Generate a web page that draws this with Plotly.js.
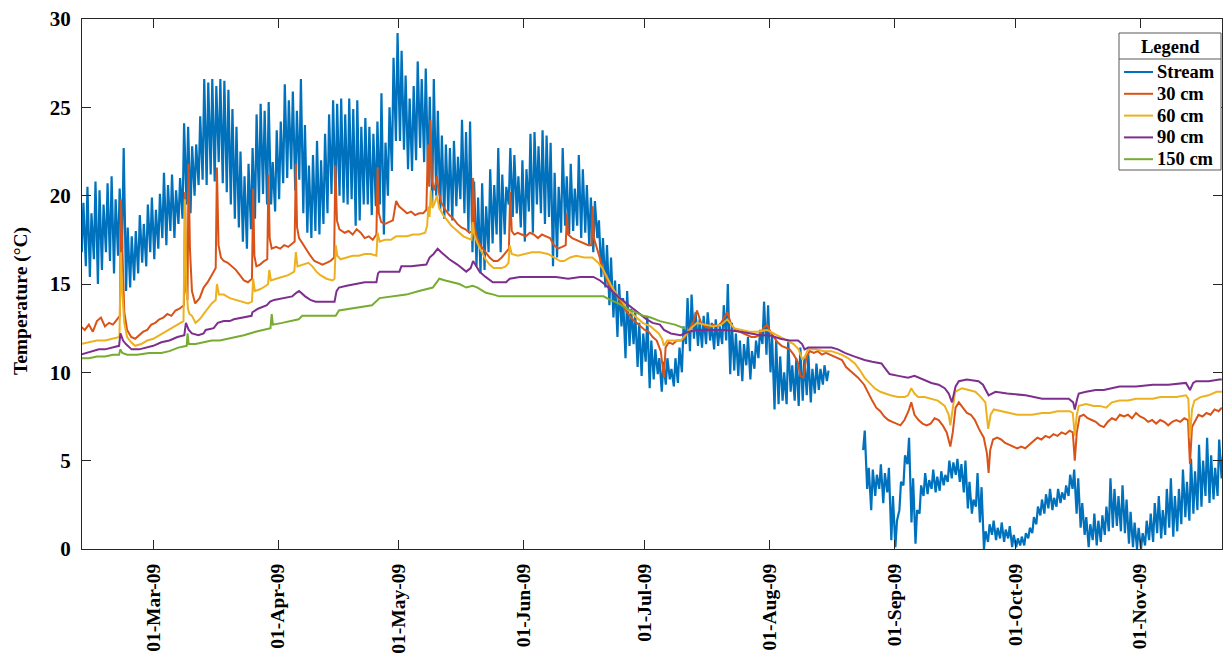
<!DOCTYPE html>
<html>
<head>
<meta charset="utf-8">
<script src="https://cdn.plot.ly/plotly-3.0.1.min.js"></script>
<style>
  html, body { margin: 0; padding: 0; background: #ffffff; }
  #chart { width: 1231px; height: 661px; }
</style>
</head>
<body>
<div id="chart"></div>
<script>
// Day offsets are counted from 11-Feb-2009 00:00.
const seriesStart = Date.UTC(2009, 1, 11);

// Stream: daily high / low temperatures (°C), one entry per day; null = logger gap.
const streamHigh = [
  19.6,20.5,19.0,20.8,20.3,19.5,20.7,21.1,19.8,20.4,
  22.7,18.2,17.7,18.0,18.9,18.4,19.5,19.9,19.2,20.1,
  21.3,20.6,21.2,20.3,21.0,24.1,23.9,22.8,22.9,24.5,
  26.6,26.4,26.6,26.2,26.6,26.5,26.0,24.9,23.9,22.5,
  21.1,21.8,22.7,24.6,25.2,24.8,25.3,21.9,23.7,24.2,
  26.3,25.4,25.9,24.8,26.6,24.0,21.7,22.3,23.1,22.0,
  23.5,24.6,25.4,25.2,25.5,24.6,25.5,24.9,25.4,23.9,
  24.4,23.9,23.5,24.2,25.8,23.0,25.0,27.8,29.2,28.2,
  26.8,25.5,26.2,27.6,26.6,27.2,25.6,26.6,24.8,23.4,
  22.9,22.7,23.1,22.2,24.3,23.6,24.2,20.8,19.9,20.7,
  19.4,21.5,20.6,22.7,21.2,20.5,22.7,22.3,21.1,22.0,
  21.5,23.5,23.6,22.8,23.7,23.4,23.0,21.3,20.5,22.7,
  21.1,21.8,20.4,22.3,21.5,20.6,19.9,19.7,18.6,17.6,
  17.2,16.5,15.2,15.0,14.2,14.6,13.6,13.4,12.8,12.2,
  13.2,11.8,11.3,10.8,10.6,10.8,10.2,10.8,11.4,12.6,
  14.2,14.4,13.4,13.0,13.2,13.4,12.8,13.0,12.6,13.8,
  15.0,12.8,12.2,11.8,11.6,12.0,11.2,11.8,12.4,14.0,
  13.8,12.0,11.8,10.9,10.0,11.8,10.4,10.8,11.4,10.8,
  11.0,10.2,10.5,10.2,10.4,10.1,null,null,null,null,
  null,null,null,null,6.7,4.6,4.5,4.2,4.8,4.3,
  4.6,3.0,1.6,3.8,5.3,6.3,4.0,2.2,3.6,4.3,
  3.9,4.5,4.1,4.4,4.2,5.0,4.9,5.1,4.8,5.0,
  3.8,2.8,4.3,3.5,1.0,1.4,1.6,1.2,1.5,1.1,
  1.3,0.8,0.6,0.7,0.9,1.2,1.8,2.4,2.8,3.1,
  3.4,2.9,3.4,3.2,3.6,4.2,4.5,4.0,2.6,1.8,
  1.4,2.0,1.6,1.9,2.4,4.0,3.4,3.0,3.6,2.8,
  2.1,1.5,1.2,0.9,1.6,2.0,2.6,3.0,2.2,3.4,
  4.0,3.0,3.4,4.5,3.8,5.1,4.4,5.9,5.0,6.3,
  5.3,4.6,6.2,5.5
];
const streamLow = [
  16.8,16.0,15.4,16.4,15.0,15.8,16.8,16.3,15.6,16.6,
  17.0,14.6,14.8,15.2,15.6,16.2,16.0,16.8,16.4,17.0,
  17.6,17.2,18.0,17.6,18.4,18.7,19.5,19.0,20.0,20.6,
  20.9,20.6,21.2,20.8,21.9,20.7,20.2,19.5,18.7,18.2,
  17.4,17.0,18.1,18.7,19.6,20.1,19.5,19.5,19.1,19.8,
  20.7,21.0,21.5,20.3,20.9,19.0,17.9,17.6,18.0,17.8,
  18.4,19.0,20.1,19.5,20.0,19.6,19.5,19.8,18.3,18.6,
  19.5,19.5,18.9,19.4,19.5,17.8,20.0,21.4,23.1,23.1,
  22.6,21.5,21.4,22.0,22.7,21.9,21.0,19.5,20.0,19.2,
  18.7,19.1,18.6,19.4,19.8,19.0,18.0,16.8,16.0,15.6,
  15.8,16.8,17.3,17.8,16.8,17.8,19.5,18.8,19.0,18.2,
  17.4,19.1,17.9,19.5,19.0,18.4,18.8,16.0,16.5,17.9,
  18.3,17.8,18.0,18.3,17.6,17.9,17.2,16.8,17.6,15.4,
  14.8,13.8,13.1,12.0,12.6,10.8,11.5,11.6,10.3,9.8,
  10.6,9.1,9.6,9.9,8.9,9.3,9.6,9.2,9.4,10.0,
  11.6,11.2,11.9,11.5,11.4,11.6,11.8,11.3,11.5,11.6,
  11.8,9.9,10.1,9.8,9.5,10.4,9.6,10.2,10.8,11.6,
  11.0,10.0,7.9,8.2,8.4,8.2,8.9,8.4,8.1,8.4,
  8.7,8.3,8.8,9.0,9.3,9.5,null,null,null,null,
  null,null,null,null,5.6,3.4,2.2,3.0,3.4,2.6,
  3.2,0.5,0.1,2.2,3.6,4.8,1.5,0.3,2.0,3.0,
  3.1,3.4,3.2,3.3,3.6,3.8,4.0,4.2,3.8,3.2,
  2.3,2.0,2.4,1.5,0.0,0.4,0.8,0.5,0.6,0.4,
  0.6,0.1,0.1,0.2,0.2,0.6,0.9,1.4,1.9,2.0,
  2.3,2.2,2.4,2.6,2.8,3.0,3.4,2.0,1.2,0.8,
  0.1,0.5,0.2,0.4,0.8,1.0,1.2,1.3,1.0,0.9,
  0.3,0.1,0.0,0.0,0.2,0.5,0.4,0.9,0.6,0.8,
  1.2,0.7,1.0,1.4,1.8,1.6,2.0,2.2,2.4,3.0,
  2.6,2.8,3.0,4.0
];

// Sediment probes: day offset and temperature (°C).
const t30 = [0,1,2,3,4,5,6,7,8,9,9.7,9.95,10.3,10.8,11.5,12.5,13.5,14.5,15.5,16.5,17.5,18.5,19.5,20.5,21.5,22.5,23.5,24.5,25.6,25.9,26.2,26.5,26.75,27.1,27.6,28.4,29.5,30.5,31.5,32.5,33.5,33.8,34.2,34.8,35.5,36.5,37.5,38.5,39.5,40.5,41.5,42.5,42.8,43.1,43.6,44.5,45.5,46.3,46.6,46.9,47.4,48.5,49.5,50.5,51.5,52.5,53.1,53.4,53.7,54.2,55,56,57,58,59,60,61,62,62.9,63.2,63.6,64.2,65.5,66.5,67.5,68.5,69.5,70.5,71.5,72.5,73.4,73.7,74,74.6,75.5,76.5,77.5,78.3,79,80,81,82,83,84,85,85.8,86.2,86.5,86.8,87.2,87.8,88.4,88.9,89.5,90.5,91.5,92.5,93.5,94.5,95.5,96.5,97.1,97.4,97.8,98.5,99.5,100.5,101.5,102.5,103.5,104.5,105.5,106.3,106.6,107,107.6,108.5,109.5,110.5,111.5,112.5,113.5,114.5,115.5,116.5,117.5,118.5,119.5,120.4,120.7,121,122,123,124,125,126,126.8,127.1,127.4,128.2,129,130,131,132,133,134,135,136,137,138,139,140,141,142,143,144,144.8,145.2,146,147,148,149,150,151,152,153,154,155,156,157,158,159,160.5,161.5,162.5,163.5,164.5,165.5,166.5,167.5,168.5,169.5,170.4,171.2,172,173,174,175,176,177,178,178.7,179.4,180.2,181,182,183,184,185,186,187,188,189,190,191,192,193,194.5,195.5,196.5,197.5,198.5,199.5,200.5,201.5,202.5,203.5,204.5,205.5,206.2,207,208,209,210,211,212,213,214,215,215.9,216.5,217.2,218,219,220,221,222,223,224.2,225,225.4,225.8,226.5,227.5,228.5,229.5,230.5,231.5,232.5,233.5,234.5,235.5,236.5,237.5,238.5,239.5,240.5,241.5,242.5,243.5,244.5,245.5,246.3,246.8,247.3,248,249,250,251,252,253,254,255,256,257,258,259,260,261,262,263,264,265,266,267,268,269,270,271,272,273,274,274.9,275.4,275.9,276.6,277.5,278.5,279.5,280.5,281.5,282.5,283.3];
const v30 = [12.6,12.4,12.7,12.3,12.9,13.1,12.6,12.8,12.7,13.0,13.2,19.8,16.6,13.4,12.4,12.0,11.9,12.1,12.3,12.4,12.7,12.8,13.0,13.1,13.3,13.2,13.5,13.6,13.8,20.2,14.6,14.1,21.8,17.0,14.6,13.9,14.2,14.8,15.1,15.5,15.9,21.6,17.2,16.5,16.3,16.2,16.0,15.8,15.5,15.2,15.1,15.3,20.4,16.6,16.0,16.1,16.3,16.4,21.2,17.6,17.0,17.1,17.0,17.2,17.1,17.3,17.4,21.8,18.2,17.6,17.3,16.9,16.6,16.3,16.2,16.1,16.2,16.3,16.5,21.7,18.6,18.1,17.9,18.0,17.8,18.1,17.9,17.6,17.7,17.5,17.8,21.6,19.0,18.5,18.4,18.5,18.6,19.7,19.4,19.2,19.0,19.1,18.9,19.0,19.0,19.2,22.9,20.5,24.3,20.8,20.3,21.1,20.2,19.6,19.2,18.9,18.7,18.4,18.2,18.1,17.9,18.0,21.0,18.2,17.5,17.1,16.8,16.5,16.3,16.3,16.5,16.8,17.0,20.2,18.0,17.8,17.9,17.8,17.7,17.9,17.8,17.6,17.8,17.7,17.6,17.2,17.0,17.1,17.2,19.0,17.8,17.6,17.5,17.4,17.3,17.2,17.2,19.4,17.6,17.0,16.4,15.6,15.0,14.7,14.4,14.0,13.6,13.3,13.0,12.8,12.6,12.4,12.3,12.0,11.8,11.2,9.7,11.4,11.7,11.6,11.8,11.8,12.0,12.4,12.8,13.5,12.8,12.6,12.5,12.7,12.6,12.8,13.4,12.7,12.4,12.3,12.2,12.1,12.0,12.0,12.1,12.5,12.7,12.3,12.0,11.7,11.5,11.4,11.3,11.0,10.6,9.8,9.7,10.9,11.2,11.1,11.2,11.0,11.1,11.0,10.9,10.8,10.7,10.3,10.1,9.9,9.7,9.3,8.8,8.4,8.0,7.8,7.5,7.3,7.2,7.1,7.0,7.3,7.8,8.3,7.6,7.3,7.1,7.0,7.1,7.4,7.3,7.0,6.6,5.8,6.6,8.0,8.3,8.0,7.7,7.6,7.3,6.8,6.3,5.4,4.3,5.6,6.2,6.3,6.2,6.0,5.9,5.8,5.7,5.8,5.7,5.9,6.1,6.3,6.2,6.4,6.3,6.5,6.4,6.6,6.5,6.7,6.6,5.0,6.6,7.5,7.6,7.4,7.3,7.2,7.0,6.9,7.2,7.4,7.3,7.6,7.5,7.6,7.4,7.7,7.5,7.4,7.2,7.3,7.1,7.3,7.2,7.0,7.2,7.3,7.2,7.4,7.3,4.8,6.9,7.2,7.6,7.5,7.7,7.6,7.9,7.8,8.0];

const t60 = [0,2,4,6,8,9.6,9.95,10.3,10.8,11.5,12.5,13.5,15,16.5,18,19.5,21,22.5,24,25.5,25.85,26.2,26.6,27,27.6,28.5,29.5,30.5,31.5,32.5,33.5,33.8,34.3,35.5,37,38.5,40,41.5,42.5,42.8,43.2,44.5,46,46.5,46.8,47.2,48.5,50,51.5,53,53.4,53.8,55,56.5,57.5,58.5,59.5,61,62.5,63,63.3,63.7,64.5,66,67.5,69,70.5,72,73.4,73.7,74.2,75.5,77,78.3,79.5,81,82.5,84,85.5,86,86.3,86.6,86.9,87.3,87.9,88.4,89,90,91,92,93,94,95,96,97,97.3,97.7,98.5,99.5,100.5,101.5,102.5,103.5,104.5,105.5,106.2,106.5,107,108.5,110,112,114,116,117.5,119,120,121.5,123,125,127,128.5,129.5,130.5,131.5,132.5,133.5,134.5,135.5,136.5,137.5,138.5,139.5,140.5,141.5,142.5,143.5,144.3,144.8,145.6,147,149,150.5,151.5,153,155,157,159,160.5,162.2,164,166,168,170.4,172,173.7,175.5,177,178.2,179.2,180,180.6,182.5,184.5,186.4,188.9,190.5,192.2,193.5,194.6,195.8,197.1,198.5,199.6,201,202.9,204.5,205.4,206.2,207,207.9,209.5,211,212.8,214.5,215.5,215.9,216.4,217.1,218.8,220.5,222.1,223.5,224.6,225.3,225.9,226.7,228.5,230.4,232.5,234.5,236.2,238.7,240.5,242.5,244,245.6,246.3,246.8,247.3,247.8,249.6,251.5,253,254.6,256,257.9,260,262,264,266.2,268,270,272,274.4,275,275.4,275.9,276.5,278,280,282,283.3];
const v60 = [11.6,11.7,11.8,11.8,11.9,12.0,16.8,14.5,12.8,12.0,11.7,11.5,11.6,11.8,11.9,12.1,12.3,12.5,12.7,12.9,19.8,15.0,13.6,13.3,13.2,12.8,13.0,13.3,13.6,13.9,14.1,15.0,14.4,14.4,14.2,14.1,14.0,13.9,14.0,15.3,14.6,14.7,14.9,15.0,15.8,15.2,15.3,15.4,15.5,15.7,16.8,16.0,16.1,16.2,16.0,15.7,15.5,15.3,15.2,15.3,17.2,16.6,16.4,16.5,16.6,16.6,16.7,16.7,16.6,17.9,17.4,17.5,17.5,17.7,17.7,17.7,17.8,17.8,17.9,18.3,19.4,18.8,20.3,19.3,19.6,20.0,19.3,18.9,18.6,18.3,18.1,17.9,17.7,17.6,17.5,18.5,17.8,17.3,16.8,16.4,16.1,15.9,15.9,15.9,16.0,16.2,17.2,16.7,16.6,16.7,16.8,16.8,16.7,16.5,16.3,16.3,16.5,16.6,16.5,16.5,16.2,15.9,15.4,15.0,14.6,14.3,14.0,13.6,13.4,13.2,13.0,12.8,12.7,12.6,12.4,12.2,11.9,11.5,11.8,11.8,11.8,12.2,12.5,12.8,12.7,12.6,12.7,13.0,12.5,12.4,12.3,12.3,12.4,12.2,12.0,11.8,11.6,11.3,10.7,11.0,11.3,11.3,11.2,11.2,11.0,10.8,10.5,10.1,9.7,9.4,9.1,8.9,8.8,8.7,8.6,8.6,8.7,9.1,8.8,8.6,8.6,8.5,8.4,8.1,7.6,7.0,7.9,8.9,9.1,9.0,8.9,8.6,8.3,6.8,7.6,7.9,7.8,7.7,7.6,7.6,7.6,7.7,7.7,7.8,7.8,7.8,7.7,6.4,7.6,8.1,8.2,8.1,8.1,8.0,8.3,8.4,8.4,8.5,8.5,8.5,8.6,8.6,8.6,8.7,8.5,6.3,7.9,8.4,8.6,8.7,8.9,8.9];

const t90 = [0,1.5,3,4.5,6,8,9.5,9.85,10.5,11.2,12.6,14.5,16,18,20,22,24,25.7,26.1,26.8,27.6,29.2,30.5,31,33,34,35.5,37,38,40.5,42.4,42.6,44,46.2,47,48,50,52.5,53.5,54.2,55.7,57,58.3,60.5,63,63.5,64.1,66,68.2,70.5,73.4,73.8,74.2,77,79.1,79.6,82,85.8,86.6,87.6,88.6,89.5,91.5,93.5,95.7,96.8,97.4,98.2,99,100.5,102.3,104,105.6,106.5,109,112,115,118,121,124,127.3,128.9,130,131.4,132.7,133.9,135.5,137.2,139,140.5,142,143.8,144.8,146.5,148.9,151,153,156,160,163.9,166,168.8,171,173.7,176,178.1,179.1,179.7,180.6,183,186.4,188,189.7,192,194.6,196.5,198.8,199.8,200.8,203,205.4,207,209,211.2,213,214.5,215.5,216.3,217.2,218,220,222.9,224,225.4,227.1,230,234.6,238.7,242,245.3,246.4,246.8,247.4,247.8,249.6,252,254,257.9,262,266.2,270,274.4,275.4,276.2,276.9,280,282.7,283.3];
const v90 = [11.0,11.1,11.2,11.3,11.3,11.4,11.5,12.2,11.8,11.6,11.3,11.3,11.4,11.5,11.7,11.8,12.0,12.1,12.8,12.4,12.2,12.1,12.2,12.4,12.5,12.8,12.9,12.9,13.0,13.1,13.2,13.4,13.6,13.8,14.0,14.1,14.2,14.3,14.5,14.6,14.3,14.1,14.0,14.0,14.0,14.6,14.8,14.9,15.0,15.1,15.1,15.6,15.7,15.7,15.7,16.0,16.0,16.1,16.5,16.7,17.0,16.8,16.4,16.1,15.7,15.9,16.3,16.0,15.7,15.4,15.1,15.1,15.1,15.3,15.4,15.4,15.4,15.4,15.3,15.4,15.4,15.2,15.0,14.7,14.4,14.2,13.9,13.6,13.3,13.0,12.8,12.7,12.4,12.2,12.1,12.3,12.4,12.4,12.4,12.3,12.2,12.1,12.1,11.9,11.8,11.8,11.6,11.3,11.4,11.4,11.4,11.3,11.1,10.9,10.7,10.6,10.5,10.2,9.9,9.8,9.7,9.8,9.6,9.4,9.3,9.1,8.8,8.3,9.2,9.5,9.6,9.5,9.3,8.7,8.9,8.8,8.7,8.5,8.5,8.5,8.3,7.9,8.5,8.8,8.9,9.0,9.0,9.2,9.2,9.3,9.3,9.4,9.0,9.4,9.5,9.5,9.6,9.6];

const t150 = [0,2,4,6,8,9.5,9.8,10.3,11.5,14,17,20,22,24.2,26.3,26.5,26.8,28.5,30.5,32.5,34.5,36.6,38.5,40.5,43.4,45.5,47.1,47.4,47.7,50,52,54.1,55,58,61,63.3,64.1,67,70,72.3,74.2,77,80.8,84,87.4,88.4,89,90.5,92.4,94,95.7,97.3,98.5,100.6,102.5,103.9,106,108.1,112,116,120,124,127,129.8,131.4,133.5,135.6,137.5,139.7,141.5,143.8,145.6,147.5,149.8,150.2];
const v150 = [10.8,10.8,10.9,10.9,11.0,11.0,11.3,11.1,11.0,11.0,11.1,11.1,11.2,11.4,11.5,12.2,11.6,11.6,11.7,11.8,11.8,11.9,12.0,12.1,12.3,12.4,12.5,13.3,12.7,12.8,12.9,13.0,13.2,13.2,13.2,13.2,13.5,13.6,13.7,13.8,14.2,14.3,14.4,14.6,14.8,15.1,15.3,15.2,15.1,15.0,14.8,14.9,14.8,14.5,14.4,14.3,14.3,14.3,14.3,14.3,14.3,14.3,14.3,14.3,14.1,13.9,13.6,13.4,13.2,13.1,12.9,12.8,12.7,12.5,12.5];

const seriesNames = ['Stream', '30 cm', '60 cm', '90 cm', '150 cm'];
const seriesColors = ['#0072BD', '#D95319', '#EDB120', '#7E2F8E', '#77AC30'];

function dayToDate(d) {
  const s = new Date(seriesStart + d * 86400000).toISOString();
  return s.slice(0, 10) + ' ' + s.slice(11, 19);
}

// Interleave the night low and afternoon high of each day.
const streamX = [], streamY = [];
for (let i = 0; i < streamHigh.length; i++) {
  streamX.push(dayToDate(i + 0.25)); streamY.push(streamLow[i]);
  streamX.push(dayToDate(i + 0.65)); streamY.push(streamHigh[i]);
}

const probeDays = [t30, t60, t90, t150];
const probeVals = [v30, v60, v90, v150];

const traces = [{
  type: 'scatter', mode: 'lines', name: seriesNames[0],
  x: streamX, y: streamY,
  line: { color: seriesColors[0], width: 2.2 }
}];
for (let k = 0; k < 4; k++) {
  traces.push({
    type: 'scatter', mode: 'lines', name: seriesNames[k + 1],
    x: probeDays[k].map(dayToDate), y: probeVals[k],
    line: { color: seriesColors[k + 1], width: 2 }
  });
}

const fontFamily = 'Liberation Serif, Times New Roman, serif';
const axisColor = '#262626';
const boxColor = '#595959';

// Plot frame in page pixels, used to place the boxed legend and the y title.
const frame = { left: 82, right: 1222, top: 19, bottom: 549 };
const px = function (x) { return (x - frame.left) / (frame.right - frame.left); };
const py = function (y) { return (frame.bottom - y) / (frame.bottom - frame.top); };

const legendBox = { x0: 1119, x1: 1221, y0: 33, y1: 170, rule: 59, first: 72, step: 21.8 };
const shapes = [
  { type: 'rect', xref: 'paper', yref: 'paper', layer: 'above',
    x0: px(legendBox.x0), x1: px(legendBox.x1), y0: py(legendBox.y1), y1: py(legendBox.y0),
    fillcolor: '#ffffff', line: { color: boxColor, width: 1 } },
  { type: 'line', xref: 'paper', yref: 'paper', layer: 'above',
    x0: px(legendBox.x0), x1: px(legendBox.x1), y0: py(legendBox.rule), y1: py(legendBox.rule),
    line: { color: boxColor, width: 1 } }
];
const annotations = [
  { xref: 'paper', yref: 'paper', x: px((legendBox.x0 + legendBox.x1) / 2), y: py(47), showarrow: false,
    xanchor: 'center', yanchor: 'middle', text: 'Legend',
    font: { family: fontFamily, size: 18.5, weight: 'bold', color: '#000000' } },
  { xref: 'paper', yref: 'paper', x: px(21), y: py(301), showarrow: false, textangle: -90,
    xanchor: 'center', yanchor: 'middle', text: 'Temperature (°C)',
    font: { family: fontFamily, size: 19.5, weight: 'bold', color: '#000000' } }
];
seriesNames.forEach(function (name, i) {
  const yy = legendBox.first + i * legendBox.step;
  shapes.push({ type: 'line', xref: 'paper', yref: 'paper', layer: 'above',
    x0: px(1124), x1: px(1153), y0: py(yy), y1: py(yy),
    line: { color: seriesColors[i], width: 2 } });
  annotations.push({ xref: 'paper', yref: 'paper', x: px(1155), y: py(yy), showarrow: false,
    xanchor: 'left', yanchor: 'middle', text: name,
    font: { family: fontFamily, size: 18.5, weight: 'bold', color: '#000000' } });
});

const layout = {
  width: 1231, height: 661,
  margin: { l: 82, r: 9, t: 19, b: 112 },
  paper_bgcolor: '#ffffff', plot_bgcolor: '#ffffff',
  showlegend: false,
  xaxis: {
    type: 'date',
    range: [dayToDate(0.3), dayToDate(283.35)],
    tick0: '2009-03-01', dtick: 'M1', tickformat: '%d-%b-%y',
    tickangle: -90,
    ticks: 'inside', ticklen: 9, tickwidth: 1, tickcolor: axisColor,
    showline: true, linecolor: axisColor, linewidth: 1, mirror: 'allticks',
    showgrid: false, zeroline: false,
    ticklabelstandoff: 6,
    tickfont: { family: fontFamily, size: 19.5, weight: 'bold', color: '#000000' }
  },
  yaxis: {
    range: [0, 30], tick0: 0, dtick: 5,
    ticks: 'inside', ticklen: 9, tickwidth: 1, tickcolor: axisColor,
    showline: true, linecolor: axisColor, linewidth: 1, mirror: 'allticks',
    showgrid: false, zeroline: false,
    ticklabelstandoff: 6,
    tickfont: { family: fontFamily, size: 21, weight: 'bold', color: '#000000' }
  },
  shapes: shapes,
  annotations: annotations
};

Plotly.newPlot('chart', traces, layout, { displayModeBar: false, staticPlot: true });
</script>
</body>
</html>
